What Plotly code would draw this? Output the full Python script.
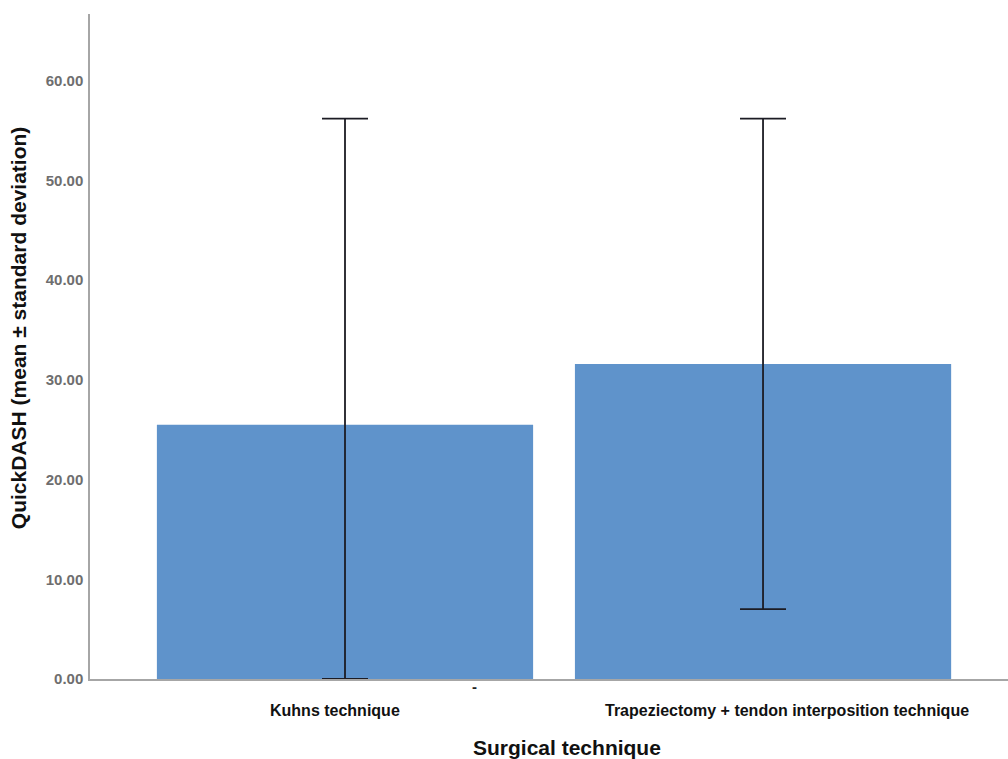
import plotly.graph_objects as go

categories = ["Kuhns technique", "Trapeziectomy + tendon interposition technique"]
means = [25.5, 31.6]
err_plus = [30.7, 24.6]
err_minus = [25.5, 24.6]
y_ticks = [0, 10, 20, 30, 40, 50, 60]
y_tick_labels = ["0.00", "10.00", "20.00", "30.00", "40.00", "50.00", "60.00"]

fig = go.Figure()
fig.add_trace(go.Bar(
    x=categories, y=means, width=0.9,
    marker=dict(color="#5f93cb", line=dict(width=0)),
    error_y=dict(type="data", symmetric=False, array=err_plus, arrayminus=err_minus,
                 color="#1c1c24", thickness=1.8, width=23),
))

font = "Liberation Sans, Arial, sans-serif"
fig.update_layout(
    width=1008, height=759,
    margin=dict(l=90, r=0, t=14, b=80),
    plot_bgcolor="white", paper_bgcolor="white",
    showlegend=False,
    font=dict(family=font),
    xaxis=dict(range=[-0.61, 1.586], showticklabels=False, ticks="",
               showline=True, linecolor="#a6a6a6", linewidth=1.5, showgrid=False, zeroline=False),
    yaxis=dict(range=[0, 66.7], tickvals=y_ticks, ticktext=y_tick_labels, ticks="",
               ticklabelstandoff=2,
               tickfont=dict(family=font, size=15, color="#6e6e6e", weight="bold"),
               showline=True, linecolor="#a6a6a6", linewidth=1.5, showgrid=False, zeroline=False),
    annotations=[
        dict(x=categories[0], y=0, xref="x", yref="paper", yshift=-42, xshift=-10,
             text="<b>Kuhns technique</b>", showarrow=False,
             font=dict(family=font, size=16, color="#111111")),
        dict(x=categories[1], y=0, xref="x", yref="paper", yshift=-42, xshift=24,
             text="<b>Trapeziectomy + tendon interposition technique</b>", showarrow=False,
             font=dict(family=font, size=16, color="#111111")),
        dict(x=0.31, y=0, xref="x", yref="paper", yshift=-18, xshift=0,
             text="<b>-</b>", showarrow=False,
             font=dict(family=font, size=15, color="#222222")),
        dict(x=(567-90)/918, y=0, xref="paper", yref="paper", yshift=-82,
             text="<b>Surgical technique</b>", showarrow=False,
             font=dict(family=font, size=21, color="#111111")),
        dict(x=-0.093, y=(679-328)/665, xref="paper", yref="paper", textangle=-90,
             text="<b>QuickDASH (mean ± standard deviation)</b>", showarrow=False,
             font=dict(family=font, size=21, color="#111111")),
    ],
)

fig.write_html("out.html", config={"displayModeBar": False},
               post_script="document.body.style.margin='0';document.body.style.overflow='hidden';")
